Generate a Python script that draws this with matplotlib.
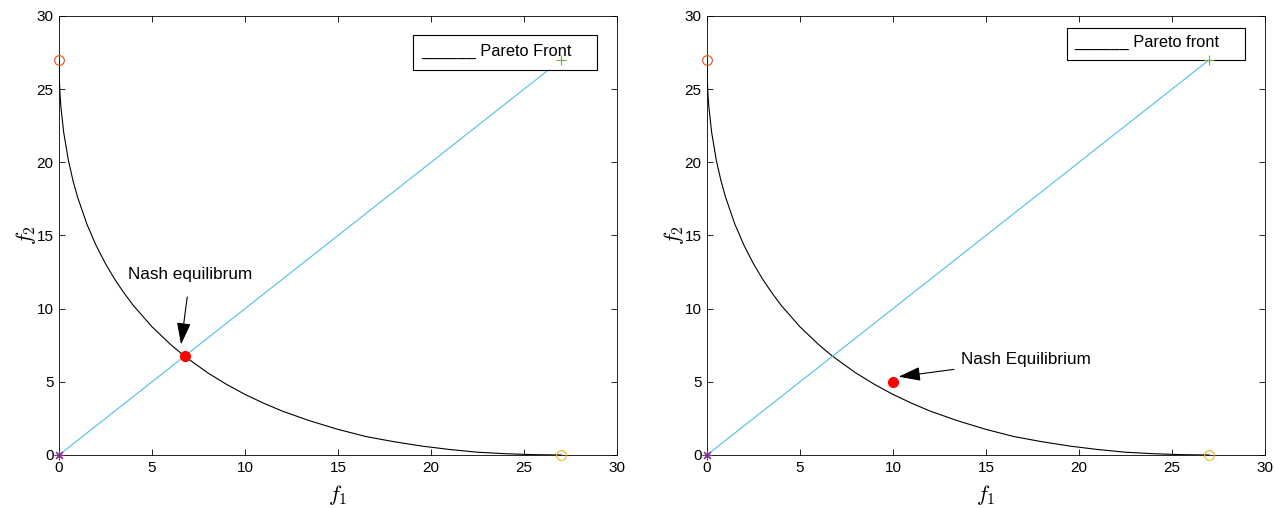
import matplotlib
matplotlib.use("Agg")
import matplotlib.pyplot as plt
from matplotlib.patches import Rectangle

plt.rcParams['font.family'] = ['Liberation Sans', 'DejaVu Sans']
plt.rcParams['mathtext.fontset'] = 'cm'

# Pareto front
front_f1 = [0, 0.005, 0.02, 0.05, 0.1, 0.25, 0.5, 0.75, 1, 1.5, 2, 2.5, 3, 3.5, 4, 5, 6, 6.75, 8, 9, 10,
            11, 12, 13.5, 15, 16.5, 18, 19.5, 21, 22.5, 24, 25.5, 27]
front_f2 = [27, 26.27, 25.55, 24.7, 23.8, 22.05, 20.15, 18.75, 17.61, 15.77, 14.30, 13.07, 12.0, 11.06,
            10.21, 8.76, 7.55, 6.75, 5.61, 4.83, 4.14, 3.54, 3.0, 2.33, 1.75, 1.26, 0.91, 0.61,
            0.376, 0.19, 0.088, 0.023, 0]
diag_f1 = [0, 27]
diag_f2 = [0, 27]
nash_left = (6.75, 6.75)
nash_right = (10, 5)
legend_labels = ["______ Pareto Front", "______ Pareto front"]
annot_texts = ["Nash equilibrum", "Nash Equilibrium"]
ticks = [0, 5, 10, 15, 20, 25, 30]

fig = plt.figure(figsize=(12.75, 5.09), dpi=100)
ax1 = fig.add_axes([0.0463, 0.1061, 0.4376, 0.8625])
ax2 = fig.add_axes([0.5545, 0.1061, 0.4376, 0.8625])

for i, ax in enumerate([ax1, ax2]):
    ax.plot(front_f1, front_f2, color='black', lw=0.8, zorder=2)
    ax.plot(diag_f1, diag_f2, color='#4DBEEE', lw=0.8, zorder=2)
    ax.plot([0], [27], 'o', mfc='none', mec='#D95319', ms=7, mew=0.8, zorder=4, clip_on=False)
    ax.plot([27], [0], 'o', mfc='none', mec='#EDB120', ms=7, mew=0.8, zorder=4, clip_on=False)
    ax.plot([0], [0], marker=(8, 2, 0), color='#7E2F8E', ms=7, mew=0.8, zorder=4, clip_on=False)
    ax.plot([27], [27], '+', color='#77AC30', ms=7, mew=0.8, zorder=6, clip_on=False)
    ax.set_xlim(0, 30)
    ax.set_ylim(0, 30)
    ax.set_xticks(ticks)
    ax.set_yticks(ticks)
    ax.tick_params(direction='in', top=True, right=True, length=4, width=0.6,
                   labelsize=11, pad=4)
    for s in ax.spines.values():
        s.set_linewidth(0.6)
    ax.set_xlabel(r'$f_1$', fontsize=16, labelpad=6)
    ax.set_ylabel(r'$f_2$', fontsize=16, labelpad=-1)

# legend-like boxes
ax1.add_patch(Rectangle((0.634, 0.877), 0.330, 0.080, transform=ax1.transAxes,
                        fc='white', ec='black', lw=0.8, zorder=5))
ax1.text(0.649, 0.919, legend_labels[0], transform=ax1.transAxes, fontsize=11.8,
         va='center', ha='left', zorder=5.5)
ax2.add_patch(Rectangle((0.645, 0.900), 0.319, 0.073, transform=ax2.transAxes,
                        fc='white', ec='black', lw=0.8, zorder=5))
ax2.text(0.659, 0.939, legend_labels[1], transform=ax2.transAxes, fontsize=11.8,
         va='center', ha='left', zorder=5.5)

# Nash points
ax1.plot([nash_left[0]], [nash_left[1]], 'o', color='red', ms=7, zorder=5)
ax2.plot([nash_right[0]], [nash_right[1]], 'o', color='red', ms=7, zorder=5)

ax1.annotate(annot_texts[0], xy=(6.56, 7.55), xytext=(7.05, 12.35), fontsize=12.3,
             ha='center', va='center',
             arrowprops=dict(arrowstyle='-|>,head_length=1.1,head_width=0.35', color='black',
                             lw=0.8, shrinkA=9, shrinkB=0))
ax2.annotate(annot_texts[1], xy=(10.3, 5.35), xytext=(13.65, 6.5), fontsize=12.3,
             ha='left', va='center',
             arrowprops=dict(arrowstyle='-|>,head_length=1.1,head_width=0.35', color='black',
                             lw=0.8, shrinkA=3, shrinkB=0))

fig.savefig('out.png', dpi=100)
